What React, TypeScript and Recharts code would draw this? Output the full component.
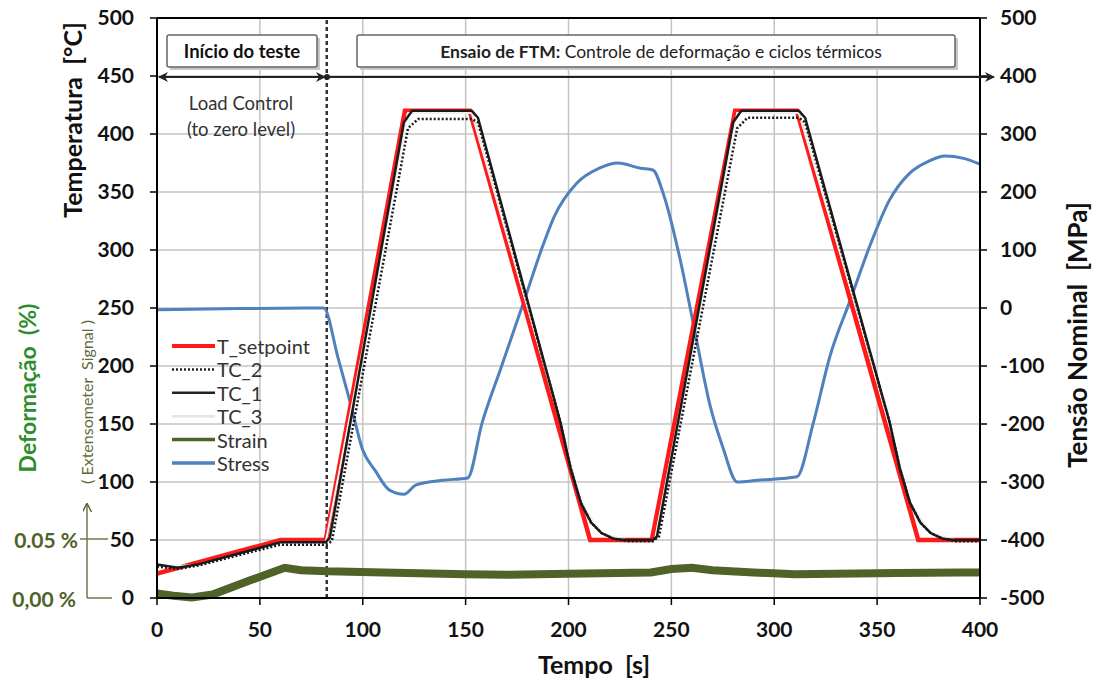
import { ComposedChart, Line, XAxis, YAxis, CartesianGrid, ReferenceLine, Legend } from 'recharts';

const FONT = 'Lato, "Open Sans", sans-serif';

const timeTicks = [0, 50, 100, 150, 200, 250, 300, 350, 400];
const tempTicks = [0, 50, 100, 150, 200, 250, 300, 350, 400, 450, 500];
const stressTicks = [-500, -400, -300, -200, -100, 0, 100, 200, 300, 400, 500];

// T_setpoint [°C]
const setpointTime = [0, 60, 82, 120.5, 152, 210.5, 240.5, 281, 311, 370, 400];
const setpointTemp = [21, 50, 50, 420, 420, 50, 50, 420, 420, 50, 50];

// TC_1 [°C]
const tc1Time = [0, 10, 20, 60, 82, 84, 120, 124, 153, 156, 196, 201, 206, 211, 216, 222, 228, 241, 243, 280, 284, 312, 315, 356, 361, 366, 371, 376, 382, 388, 400];
const tc1Temp = [29, 26, 29, 48, 48, 52, 410, 420, 420, 414, 152, 112, 82, 65, 56, 51, 50, 50, 53, 410, 420, 420, 414, 152, 112, 82, 65, 56, 51, 50, 50];

// TC_2 [°C] (dotted)
const tc2Time = [0, 10, 20, 60, 82, 85, 122, 127, 153, 156, 196, 201, 206, 211, 216, 222, 228, 241, 244, 282, 287, 312, 315, 356, 361, 366, 371, 376, 382, 388, 400];
const tc2Temp = [27, 25, 28, 46, 46, 49, 405, 413, 413, 410, 152, 112, 82, 65, 56, 51, 49, 49, 53, 405, 414, 414, 410, 152, 112, 82, 65, 56, 51, 49, 49];

// TC_3 [°C] (very faint, hidden under TC_1)
const tc3Time = [0, 20, 60, 82, 122, 153, 196, 206, 216, 228, 242, 282, 312, 356, 366, 376, 388, 400];
const tc3Temp = [28, 28, 48, 48, 418, 418, 152, 82, 56, 50, 50, 418, 418, 152, 82, 56, 50, 50];

// Strain, drawn on the temperature scale
const strainTime = [0, 8, 17, 27, 45, 62, 70, 83, 110, 150, 170, 200, 240, 250, 260, 270, 290, 310, 330, 360, 390, 400];
const strainVal = [4, 2, 0.5, 3, 15, 26, 24, 23, 22, 20.5, 20, 21, 22, 25, 26, 24, 22, 20.5, 21, 21.5, 22, 22];

// Stress [MPa]
const stressTime = [0, 40, 81, 88, 94, 100, 106, 113, 120, 126, 139, 151, 158, 167, 178, 188, 193, 204, 215, 224, 235, 241, 246, 254, 261, 269, 275, 282, 292, 311, 319, 327, 337, 347, 356, 366, 375, 383, 392, 400];
const stressVal = [-3, -1, 0, -86, -164, -245, -280, -314, -321, -305, -297, -293, -198, -105, 8, 112, 157, 215, 241, 250, 241, 238, 198, 88, -33, -171, -240, -300, -297, -291, -198, -84, 14, 112, 186, 233, 253, 262, 258, 248];

const toPoints = (ts: number[], vs: number[]) => ts.map((t, i) => ({ t, v: vs[i] }));

const legendItems = [
    { name: 'T_setpoint', color: '#ff1a1a', width: 4, dash: '' },
    { name: 'TC_2', color: '#222', width: 2.5, dash: '2 2' },
    { name: 'TC_1', color: '#222', width: 2.5, dash: '' },
    { name: 'TC_3', color: '#e4e4e4', width: 2.5, dash: '' },
    { name: 'Strain', color: '#4f6228', width: 3.5, dash: '' },
    { name: 'Stress', color: '#4f81bd', width: 3.5, dash: '' },
];

const renderLegend = () => (
    <svg width={185} height={145}>
        {legendItems.map((it, i) => {
            const y = 12 + i * 23.4;
            return (
                <g key={it.name}>
                    <line x1={7} x2={50} y1={y} y2={y} stroke={it.color} strokeWidth={it.width} strokeDasharray={it.dash} />
                    <text x={52} y={y} dominantBaseline="central" fontFamily={FONT} fontSize={20} fill="#333">{it.name}</text>
                </g>
            );
        })}
    </svg>
);

const tickStyle = { fill: '#111', fontSize: 21, fontWeight: 700, fontFamily: FONT };
const axisLineStyle = { stroke: '#000', strokeWidth: 2 };
const tickLineStyle = { stroke: '#000', strokeWidth: 1.5 };
const SP = '\u00a0';

export default function App() {
    return (
        <div style={{ position: 'absolute', left: 0, top: 0, width: 1095, height: 686, background: '#fff' }}>
            <ComposedChart width={1095} height={686} margin={{ top: 18, right: 0, bottom: 0, left: 0 }}>
                <CartesianGrid yAxisId="left" stroke="#c4c4c4" strokeWidth={1.5} />
                <XAxis
                    dataKey="t"
                    type="number"
                    domain={[0, 400]}
                    ticks={timeTicks}
                    height={88}
                    tick={tickStyle}
                    tickSize={7}
                    tickMargin={17}
                    axisLine={axisLineStyle}
                    tickLine={tickLineStyle}
                    allowDataOverflow
                />
                <YAxis
                    yAxisId="left"
                    type="number"
                    domain={[0, 500]}
                    ticks={tempTicks}
                    width={157}
                    tick={tickStyle}
                    tickSize={7}
                    tickMargin={16}
                    axisLine={axisLineStyle}
                    tickLine={tickLineStyle}
                />
                <YAxis
                    yAxisId="right"
                    orientation="right"
                    type="number"
                    domain={[-500, 500]}
                    ticks={stressTicks}
                    width={115}
                    tick={tickStyle}
                    tickSize={7}
                    tickMargin={13}
                    axisLine={axisLineStyle}
                    tickLine={tickLineStyle}
                />
                <ReferenceLine yAxisId="left" y={500} stroke="#000" strokeWidth={2} />
                <ReferenceLine yAxisId="left" x={82.5} stroke="#333" strokeWidth={2.5} strokeDasharray="4 3" />
                <Line yAxisId="left" data={toPoints(strainTime, strainVal)} dataKey="v" name="Strain" stroke="#4f6228" strokeWidth={8} dot={false} isAnimationActive={false} />
                <Line yAxisId="right" type="monotone" data={toPoints(stressTime, stressVal)} dataKey="v" name="Stress" stroke="#4f81bd" strokeWidth={3} dot={false} isAnimationActive={false} />
                <Line yAxisId="left" data={toPoints(setpointTime, setpointTemp)} dataKey="v" name="T_setpoint" stroke="#ff1a1a" strokeWidth={4.5} dot={false} isAnimationActive={false} />
                <Line yAxisId="left" data={toPoints(tc3Time, tc3Temp)} dataKey="v" name="TC_3" stroke="#f0f0f0" strokeWidth={2} dot={false} isAnimationActive={false} />
                <Line yAxisId="left" data={toPoints(tc1Time, tc1Temp)} dataKey="v" name="TC_1" stroke="#1a1a1a" strokeWidth={2.5} dot={false} isAnimationActive={false} />
                <Line yAxisId="left" data={toPoints(tc2Time, tc2Temp)} dataKey="v" name="TC_2" stroke="#1a1a1a" strokeWidth={2.5} strokeDasharray="2 2" dot={false} isAnimationActive={false} />
                <Legend
                    layout="vertical"
                    align="center"
                    verticalAlign="middle"
                    content={renderLegend}
                    wrapperStyle={{ left: 165, top: 334, width: 185, height: 145 }}
                />
            </ComposedChart>
            <svg width={1095} height={686} style={{ position: 'absolute', left: 0, top: 0, pointerEvents: 'none' }}>
                <defs>
                    <marker id="arrowEnd" viewBox="0 0 10 10" refX={9} refY={5} markerWidth={5} markerHeight={5} orient="auto">
                        <path d="M0,0 L10,5 L0,10 L3,5 Z" fill="#222" />
                    </marker>
                    <marker id="arrowStart" viewBox="0 0 10 10" refX={1} refY={5} markerWidth={5} markerHeight={5} orient="auto">
                        <path d="M10,0 L0,5 L10,10 L7,5 Z" fill="#222" />
                    </marker>
                    <marker id="oliveArrow" viewBox="0 0 10 10" refX={9} refY={5} markerWidth={6} markerHeight={6} orient="auto">
                        <path d="M0,0 L10,5 L0,10" fill="none" stroke="#4f6228" strokeWidth={1.5} />
                    </marker>
                </defs>
                {/* phase boxes */}
                <rect x={170} y={38} width={150} height={32} fill="#c8c8c8" />
                <rect x={167} y={35} width={150} height={32} fill="#fff" stroke="#666" strokeWidth={1.5} rx={2} />
                <text x={242} y={51} textAnchor="middle" dominantBaseline="central" fontFamily={FONT} fontSize={18.5} fontWeight={700} fill="#111">Início do teste</text>
                <rect x={360} y={38} width={598} height={32} fill="#c8c8c8" />
                <rect x={357} y={35} width={598} height={32} fill="#fff" stroke="#666" strokeWidth={1.5} rx={2} />
                <text x={661} y={51} textAnchor="middle" dominantBaseline="central" fontFamily={FONT} fontSize={17.5} fill="#222">
                    <tspan fontWeight={700}>Ensaio de FTM:</tspan> Controle de deformação e ciclos térmicos
                </text>
                {/* phase arrows */}
                <line x1={159} y1={77} x2={325} y2={77} stroke="#222" strokeWidth={2} markerStart="url(#arrowStart)" markerEnd="url(#arrowEnd)" />
                <line x1={327} y1={77} x2={994} y2={77} stroke="#222" strokeWidth={2} markerEnd="url(#arrowEnd)" />
                <circle cx={327} cy={77} r={3} fill="#222" />
                <text x={241} y={103} textAnchor="middle" dominantBaseline="central" fontFamily={FONT} fontSize={18.5} fill="#333">Load Control</text>
                <text x={241} y={129} textAnchor="middle" dominantBaseline="central" fontFamily={FONT} fontSize={18.5} fill="#333">(to zero level)</text>
                {/* axis titles */}
                <text transform="translate(72,120) rotate(-90)" textAnchor="middle" dominantBaseline="central" fontFamily={FONT} fontSize={25} fontWeight={700} fill="#111">{`Temperatura${SP}${SP}[°C]`}</text>
                <text transform="translate(1077,335) rotate(-90)" textAnchor="middle" dominantBaseline="central" fontFamily={FONT} fontSize={26} fontWeight={700} fill="#111">{`Tensão Nominal${SP}${SP}[MPa]`}</text>
                <text x={594} y={664} textAnchor="middle" dominantBaseline="central" fontFamily={FONT} fontSize={25} fontWeight={700} fill="#111">{`Tempo${SP}${SP}[s]`}</text>
                <text transform="translate(27,388) rotate(-90)" textAnchor="middle" dominantBaseline="central" fontFamily={FONT} fontSize={23} fontWeight={700} fill="#2e8b2e">{`Deformação${SP}${SP}(%)`}</text>
                <text transform="translate(86,402) rotate(-90)" textAnchor="middle" dominantBaseline="central" fontFamily={FONT} fontSize={16} fill="#5d6b3a">{`(${SP}Extensometer${SP}${SP}Signal${SP})`}</text>
                {/* strain scale marks */}
                <text x={78} y={539} textAnchor="end" dominantBaseline="central" fontFamily={FONT} fontSize={21} fontWeight={700} fill="#4f6228">0.05 %</text>
                <text x={76} y={598} textAnchor="end" dominantBaseline="central" fontFamily={FONT} fontSize={21} fontWeight={700} fill="#4f6228">0,00 %</text>
                <line x1={80} y1={539} x2={108} y2={539} stroke="#6b7a4a" strokeWidth={1.5} />
                <line x1={87} y1={598} x2={112} y2={598} stroke="#6b7a4a" strokeWidth={1.5} />
                <line x1={87} y1={598} x2={87} y2={504} stroke="#6b7a4a" strokeWidth={1.5} markerEnd="url(#oliveArrow)" />
            </svg>
        </div>
    );
}
